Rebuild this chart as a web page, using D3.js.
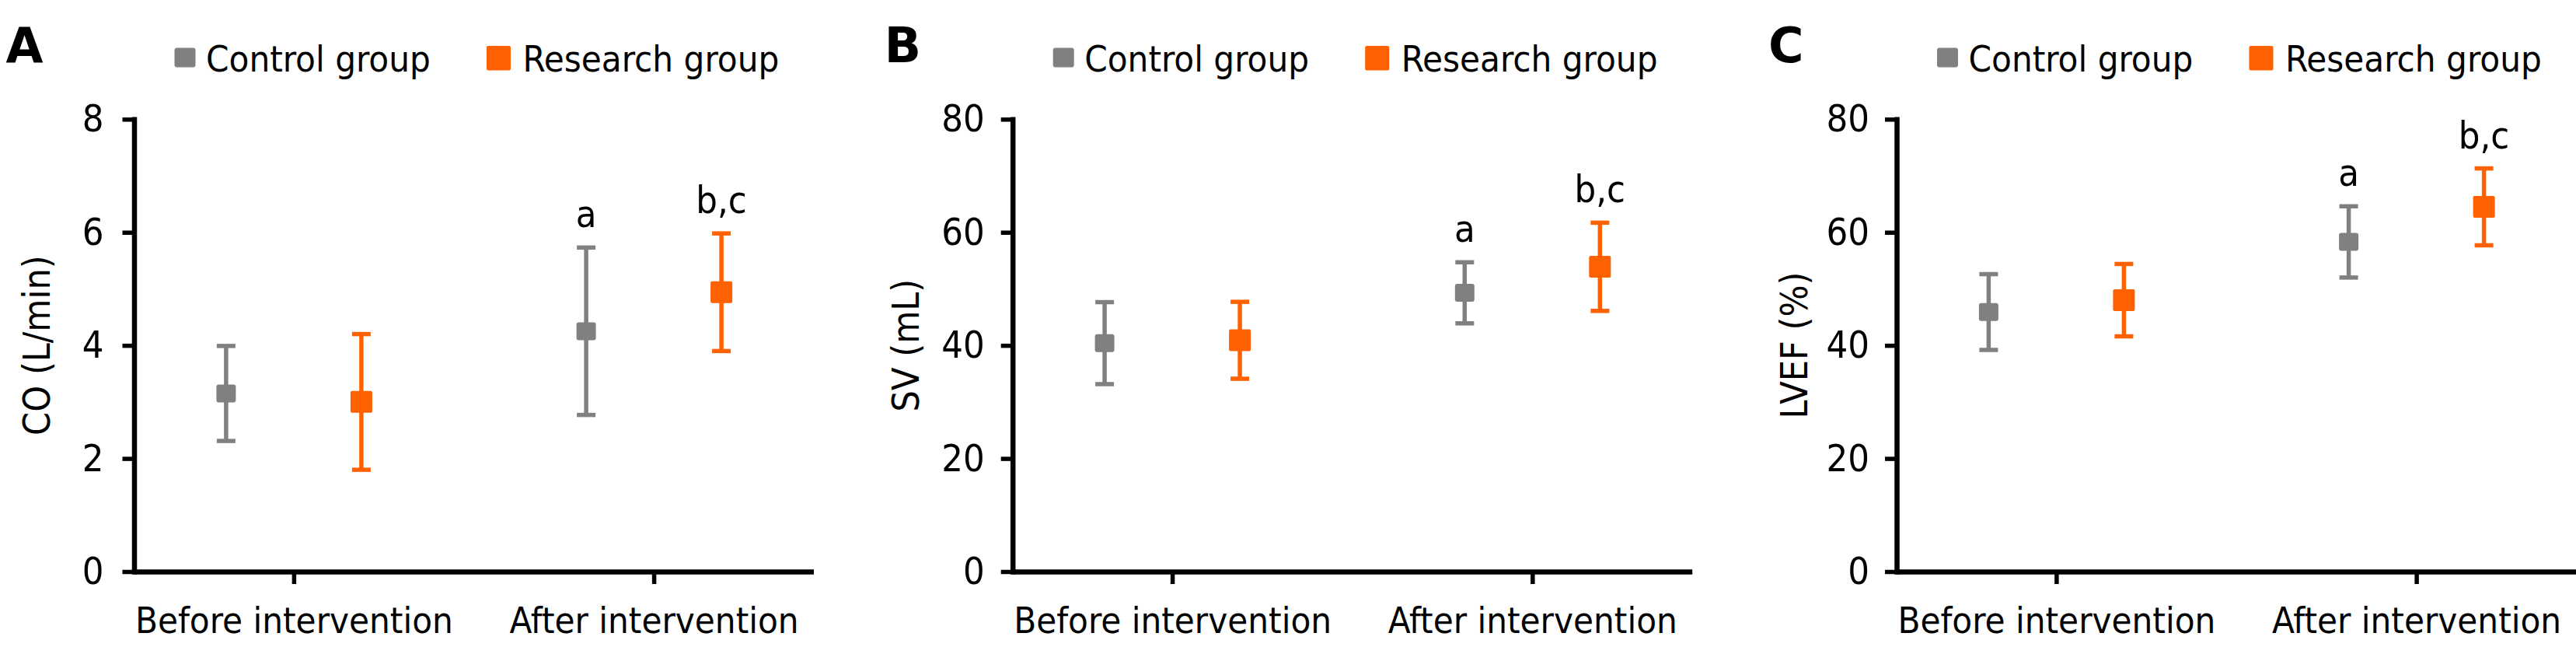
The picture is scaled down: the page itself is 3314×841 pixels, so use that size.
<!DOCTYPE html>
<html>
<head>
<meta charset="utf-8">
<script src="https://cdn.jsdelivr.net/npm/d3@7"></script>
<style>
  html, body { margin: 0; padding: 0; background: #fff; }
  svg text { font-family: "DejaVu Sans Condensed", "DejaVu Sans", sans-serif; font-stretch: condensed; fill: #000; }
</style>
</head>
<body>
<svg id="chart" width="3314" height="841"></svg>
<script>
// ---------------- data ----------------
const categories = ["Before intervention", "After intervention"];
const groups = ["Control group", "Research group"];
const panelLetters = ["A", "B", "C"];
const yTitles = ["CO (L/min)", "SV (mL)", "LVEF (%)"];
const yMaxes = [8, 80, 80];
const yTicksCO = [0, 2, 4, 6, 8];
const yTicksSV = [0, 20, 40, 60, 80];
const yTicksLVEF = [0, 20, 40, 60, 80];

const coControlMean = [3.15, 4.25];
const coControlSD = [0.84, 1.48];
const coResearchMean = [3.0, 4.94];
const coResearchSD = [1.2, 1.04];

const svControlMean = [40.4, 49.3];
const svControlSD = [7.25, 5.4];
const svResearchMean = [40.9, 53.9];
const svResearchSD = [6.8, 7.8];

const lvefControlMean = [45.9, 58.3];
const lvefControlSD = [6.7, 6.3];
const lvefResearchMean = [48.0, 64.5];
const lvefResearchSD = [6.4, 6.8];

// significance marks (per category, per group)
const controlMarks = ["", "a"];
const researchMarks = ["", "b,c"];

const groupColors = ["#808080", "#FF6000"];

// ---------------- layout ----------------
const svg = d3.select("#chart");
const FS = 47;
const FS_NUM = 48.5;
const plotTop = 153.3, plotBottom = 735;
const plotWidth = 874;
const axisXs = [172.5, 1302.7, 2440];
const titleOffsets = [-108.5, -121, -114.6];
const tickPads = [24, 21, 20];

const panels = [
  { ticks: yTicksCO, mean: [coControlMean, coResearchMean], sd: [coControlSD, coResearchSD] },
  { ticks: yTicksSV, mean: [svControlMean, svResearchMean], sd: [svControlSD, svResearchSD] },
  { ticks: yTicksLVEF, mean: [lvefControlMean, lvefResearchMean], sd: [lvefControlSD, lvefResearchSD] }
];
const marks = [controlMarks, researchMarks];

panels.forEach((p, pi) => {
  const g = svg.append("g").attr("transform", `translate(${axisXs[pi]},0)`);

  const y = d3.scaleLinear().domain([0, yMaxes[pi]]).range([plotBottom, plotTop]);
  const x = d3.scalePoint().domain(categories).range([0, plotWidth]).padding(0.4434);
  const xg = d3.scalePoint().domain(groups).range([-87, 87]);

  // y axis
  const yAxis = g.append("g")
    .call(d3.axisLeft(y).tickValues(p.ticks).tickSize(15).tickSizeOuter(0).tickPadding(tickPads[pi]).tickFormat(d3.format("d")));
  yAxis.select(".domain").attr("stroke", "#000").attr("stroke-width", 6.5).attr("stroke-linecap", "square");
  yAxis.selectAll(".tick line").attr("stroke", "#000").attr("stroke-width", 5.5);
  yAxis.selectAll(".tick text").attr("font-size", FS_NUM);
  yAxis.attr("font-family", null).attr("font-size", null);

  // x axis
  const xAxis = g.append("g").attr("transform", `translate(0,${plotBottom})`)
    .call(d3.axisBottom(x).tickSize(16).tickSizeOuter(0).tickPadding(30));
  xAxis.select(".domain").attr("stroke", "#000").attr("stroke-width", 6.5);
  xAxis.selectAll(".tick line").attr("stroke", "#000").attr("stroke-width", 5.5);
  xAxis.selectAll(".tick text").attr("font-size", FS);
  xAxis.attr("font-family", null).attr("font-size", null);

  // y title
  g.append("text")
    .attr("transform", `translate(${titleOffsets[pi]},${(plotTop + plotBottom) / 2}) rotate(-90)`)
    .attr("text-anchor", "middle")
    .attr("font-size", 48)
    .text(yTitles[pi]);

  // panel letter
  g.append("text")
    .attr("x", -165).attr("y", 80)
    .attr("font-size", 62).attr("font-weight", "bold")
    .style("font-stretch", "normal")
    .style("font-family", "'DejaVu Sans', sans-serif")
    .text(panelLetters[pi]);

  // legend
  const lg = g.append("g");
  lg.append("rect").attr("x", 52).attr("y", 61.5).attr("width", 27).attr("height", 25).attr("rx", 3)
    .attr("fill", groupColors[0]);
  lg.append("text").attr("x", 92.5).attr("y", 91.7).attr("font-size", FS).text(groups[0]);
  lg.append("rect").attr("x", 453.5).attr("y", 59).attr("width", 31).attr("height", 31.5).attr("rx", 2)
    .attr("fill", groupColors[1]);
  lg.append("text").attr("x", 500).attr("y", 91.7).attr("font-size", FS).text(groups[1]);

  // error bars and markers
  groups.forEach((gr, gi) => {
    const data = categories.map((c, ci) => ({ c, m: p.mean[gi][ci], s: p.sd[gi][ci], mark: marks[gi][ci] }));
    const sg = g.append("g");
    const cx = d => x(d.c) + xg(gr);
    sg.selectAll("line.v").data(data).join("line").attr("class", "v")
      .attr("x1", cx).attr("x2", cx)
      .attr("y1", d => y(d.m + d.s)).attr("y2", d => y(d.m - d.s))
      .attr("stroke", groupColors[gi]).attr("stroke-width", 5.5);
    ["top", "bot"].forEach(k => {
      sg.selectAll("line." + k).data(data).join("line").attr("class", k)
        .attr("x1", d => cx(d) - 12).attr("x2", d => cx(d) + 12)
        .attr("y1", d => y(k === "top" ? d.m + d.s : d.m - d.s))
        .attr("y2", d => y(k === "top" ? d.m + d.s : d.m - d.s))
        .attr("stroke", groupColors[gi]).attr("stroke-width", 5.5);
    });
    const w = gi === 0 ? 25 : 28, h = gi === 0 ? 23 : 28;
    sg.selectAll("rect").data(data).join("rect")
      .attr("x", d => cx(d) - w / 2).attr("y", d => y(d.m) - h / 2)
      .attr("width", w).attr("height", h).attr("rx", gi === 0 ? 3 : 2)
      .attr("fill", groupColors[gi]);
    sg.selectAll("text").data(data.filter(d => d.mark)).join("text")
      .attr("x", cx).attr("y", d => y(d.m + d.s) - 26)
      .attr("text-anchor", "middle").attr("font-size", FS_NUM)
      .text(d => d.mark);
  });
});
</script>
</body>
</html>
